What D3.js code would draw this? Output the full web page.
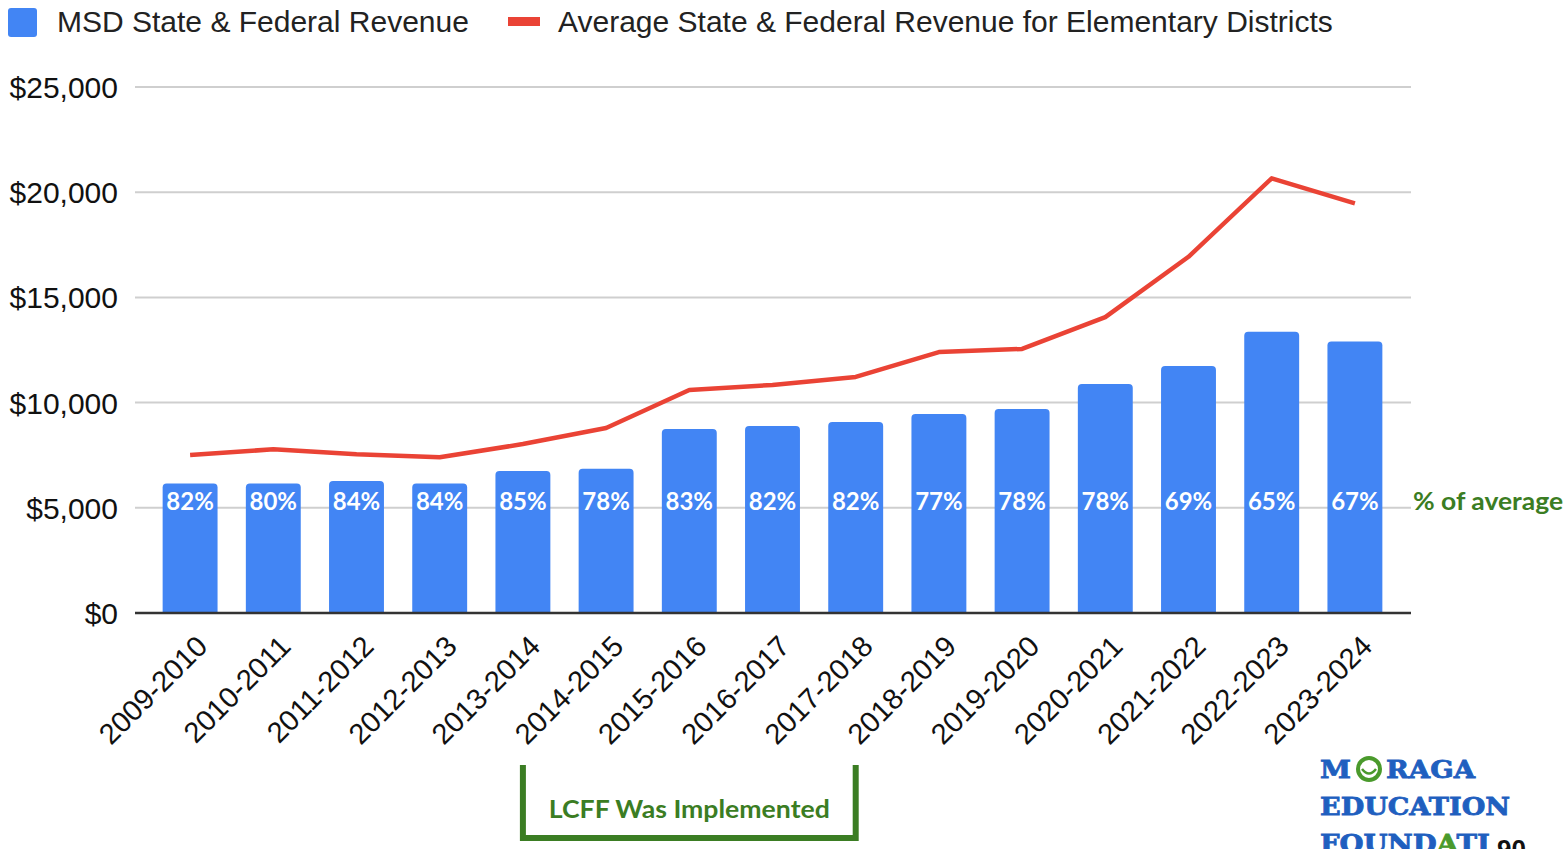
<!DOCTYPE html>
<html>
<head>
<meta charset="utf-8">
<script src="https://cdn.jsdelivr.net/npm/d3@7"></script>
<style>
  body { margin: 0; background: #fff; overflow: hidden; }
  svg { display: block; }
</style>
</head>
<body>
<div id="chart"></div>
<script>
// values
const years = ['2009-2010', '2010-2011', '2011-2012', '2012-2013', '2013-2014', '2014-2015', '2015-2016',
  '2016-2017', '2017-2018', '2018-2019', '2019-2020', '2020-2021', '2021-2022', '2022-2023', '2023-2024'];
const msdRevenue = [6160, 6160, 6270, 6160, 6750, 6860, 8750, 8890, 9080, 9460, 9700, 10880, 11740, 13370, 12900];
const avgRevenue = [7510, 7780, 7540, 7400, 8030, 8790, 10600, 10840, 11220, 12400, 12550, 14060, 16930, 20660, 19470];
const pctLabels = ['82%', '80%', '84%', '84%', '85%', '78%', '83%', '82%', '82%', '77%', '78%', '78%', '69%', '65%', '67%'];
const yTicks = [0, 5000, 10000, 15000, 20000, 25000];

const width = 1567, height = 849;
const margin = { top: 87, bottom: 236, left: 135, right: 156 };
const blue = '#4285f4', red = '#ea4335', green = '#3b7d23', logoBlue = '#1f5fbf', logoGreen = '#4a9a2c';
const sans = 'Liberation Sans, Arial, sans-serif';

const svg = d3.select('#chart').append('svg')
  .attr('width', width)
  .attr('height', height)
  .attr('viewBox', [0, 0, width, height]);

const y = d3.scaleLinear()
  .domain([0, 25000])
  .range([height - margin.bottom, margin.top]);

const x = d3.scaleBand()
  .domain(years)
  .range([148.5, 1396.5])
  .paddingInner(0.34)
  .paddingOuter(0.17);

// grid lines
svg.append('g')
  .selectAll('line')
  .data(yTicks.slice(1))
  .join('line')
  .attr('x1', margin.left)
  .attr('x2', width - margin.right)
  .attr('y1', d => y(d))
  .attr('y2', d => y(d))
  .attr('stroke', '#cfcfcf')
  .attr('stroke-width', 2);

// y labels
svg.append('g')
  .selectAll('text')
  .data(yTicks)
  .join('text')
  .attr('x', 118)
  .attr('y', d => y(d) + 11)
  .attr('text-anchor', 'end')
  .attr('font-family', sans)
  .attr('font-size', 30)
  .attr('fill', '#111')
  .text(d => '$' + d3.format(',')(d));

// bars with rounded tops
const r = 4;
svg.append('g')
  .attr('fill', blue)
  .selectAll('path')
  .data(msdRevenue)
  .join('path')
  .attr('d', (d, i) => {
    const x0 = x(years[i]), w = x.bandwidth(), y0 = y(d), yb = y(0);
    return `M${x0},${yb}V${y0 + r}Q${x0},${y0} ${x0 + r},${y0}H${x0 + w - r}Q${x0 + w},${y0} ${x0 + w},${y0 + r}V${yb}Z`;
  });

// baseline
svg.append('line')
  .attr('x1', margin.left)
  .attr('x2', width - margin.right)
  .attr('y1', y(0))
  .attr('y2', y(0))
  .attr('stroke', '#333')
  .attr('stroke-width', 2.5);

// average line
const line = d3.line()
  .x((d, i) => x(years[i]) + x.bandwidth() / 2)
  .y(d => y(d));

svg.append('path')
  .datum(avgRevenue)
  .attr('d', line)
  .attr('fill', 'none')
  .attr('stroke', red)
  .attr('stroke-width', 4.5)
  .attr('stroke-linejoin', 'round');

// percent labels in bars
svg.append('g')
  .selectAll('text')
  .data(pctLabels)
  .join('text')
  .attr('x', (d, i) => x(years[i]) + x.bandwidth() / 2)
  .attr('y', 510)
  .attr('text-anchor', 'middle')
  .attr('font-family', 'Lato, sans-serif')
  .attr('font-weight', 'bold')
  .attr('font-size', 24)
  .attr('fill', '#fff')
  .text(d => d);

svg.append('text')
  .attr('x', 1413)
  .attr('y', 510)
  .attr('font-family', 'Lato, sans-serif')
  .attr('font-weight', 'bold')
  .attr('font-size', 25)
  .attr('textLength', 150)
  .attr('lengthAdjust', 'spacingAndGlyphs')
  .attr('fill', green)
  .text('% of average');

// x labels, rotated
svg.append('g')
  .selectAll('text')
  .data(years)
  .join('text')
  .attr('transform', d => `translate(${x(d) + x.bandwidth() / 2 + 19},${y(0) + 35}) rotate(-45)`)
  .attr('text-anchor', 'end')
  .attr('font-family', sans)
  .attr('font-size', 29)
  .attr('fill', '#111')
  .text(d => d);

// legend
svg.append('rect')
  .attr('x', 8).attr('y', 8).attr('width', 29).attr('height', 29)
  .attr('rx', 3).attr('fill', blue);
svg.append('text')
  .attr('x', 57).attr('y', 32)
  .attr('font-family', sans)
  .attr('font-size', 30)
  .attr('fill', '#222')
  .text('MSD State & Federal Revenue');
svg.append('rect')
  .attr('x', 508).attr('y', 17).attr('width', 32).attr('height', 9)
  .attr('fill', red);
svg.append('text')
  .attr('x', 558).attr('y', 32)
  .attr('font-family', sans)
  .attr('font-size', 30)
  .attr('fill', '#222')
  .text('Average State & Federal Revenue for Elementary Districts');

// LCFF bracket
const iStart = years.indexOf('2013-2014'), iEnd = years.indexOf('2017-2018');
const bx0 = x(years[iStart]) + x.bandwidth() / 2;
const bx1 = x(years[iEnd]) + x.bandwidth() / 2;
svg.append('path')
  .attr('d', `M${bx0},765V838H${bx1}V765`)
  .attr('fill', 'none')
  .attr('stroke', green)
  .attr('stroke-width', 6);
svg.append('text')
  .attr('x', (bx0 + bx1) / 2)
  .attr('y', 818)
  .attr('text-anchor', 'middle')
  .attr('font-family', 'Lato, sans-serif')
  .attr('font-weight', 'bold')
  .attr('font-size', 25)
  .attr('textLength', 281)
  .attr('lengthAdjust', 'spacingAndGlyphs')
  .attr('fill', green)
  .text('LCFF Was Implemented');

// logo
const logo = svg.append('g')
  .attr('font-family', 'DejaVu Serif, serif')
  .attr('font-weight', 'bold')
  .attr('font-size', 24)
  .attr('fill', logoBlue)
  .attr('stroke', logoBlue)
  .attr('stroke-width', 0.8);
logo.append('text').attr('x', 1320).attr('y', 778)
  .attr('textLength', 31).attr('lengthAdjust', 'spacingAndGlyphs').text('M');
logo.append('circle').attr('cx', 1369).attr('cy', 769).attr('r', 11)
  .attr('fill', 'none').attr('stroke', logoGreen).attr('stroke-width', 4);
logo.append('path').attr('d', 'M1362,769Q1369,778 1376,769')
  .attr('fill', 'none').attr('stroke', logoGreen).attr('stroke-width', 2.5);
logo.append('text').attr('x', 1386).attr('y', 778)
  .attr('textLength', 89).attr('lengthAdjust', 'spacingAndGlyphs').text('RAGA');
logo.append('text').attr('x', 1320).attr('y', 815)
  .attr('textLength', 190).attr('lengthAdjust', 'spacingAndGlyphs').text('EDUCATION');
const f = logo.append('text').attr('x', 1320).attr('y', 852)
  .attr('textLength', 170).attr('lengthAdjust', 'spacingAndGlyphs');
f.append('tspan').text('FOUND');
f.append('tspan').attr('fill', logoGreen).attr('stroke', logoGreen).text('A');
f.append('tspan').text('TI');
svg.append('text')
  .attr('x', 1497).attr('y', 858)
  .attr('font-family', sans)
  .attr('font-weight', 'bold')
  .attr('font-size', 26)
  .attr('fill', '#111')
  .text('90');
</script>
</body>
</html>
